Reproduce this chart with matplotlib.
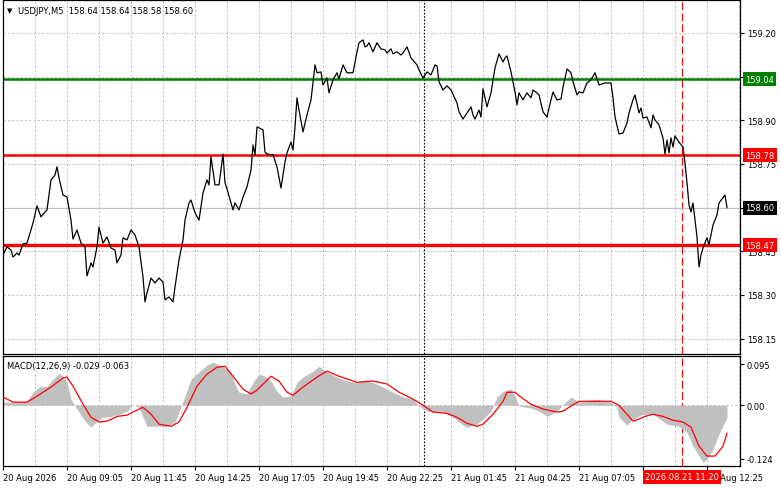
import matplotlib
matplotlib.use('Agg')
import matplotlib.pyplot as plt
import matplotlib.transforms as mtransforms

# USDJPY M5 closes, bar index = number of 5-minute bars from the left edge
bar_idx = [0, 2, 4, 5, 7, 8, 10, 12, 15, 17, 19, 21, 22, 24, 26, 27, 28, 30, 32, 34,
           35, 37, 39, 41, 42, 44, 45, 47, 48, 50, 52, 54, 56, 57, 59, 60, 62, 64, 66, 68,
           70, 71, 72, 74, 76, 78, 80, 81, 83, 85, 86, 88, 90, 91, 93, 94, 96, 98, 100, 102,
           103, 104, 106, 108, 110, 111, 112, 115, 116, 118, 120, 122, 124, 125, 126, 127, 130, 131, 132, 135,
           137, 139, 141, 142, 144, 145, 146, 147, 148, 150, 152, 154, 156, 157, 159, 160, 162, 163, 165, 167,
           168, 170, 172, 175, 177, 178, 180, 181, 182, 183, 185, 187, 189, 191, 192, 194, 195, 197, 199, 200,
           202, 204, 207, 208, 210, 212, 214, 216, 217, 218, 220, 222, 224, 227, 228, 230, 232, 234, 235, 236,
           238, 239, 240, 242, 244, 246, 248, 250, 251, 252, 254, 256, 257, 258, 260, 262, 264, 265, 267, 268,
           270, 272, 274, 275, 277, 279, 280, 282, 284, 285, 287, 288, 290, 292, 294, 296, 298, 301, 304, 305,
           306, 308, 310, 312, 313, 315, 316, 318, 319, 320, 322, 324, 325, 326, 328, 330, 331, 332, 333, 334,
           335, 336, 338, 340, 341, 342, 343, 344, 345, 346, 347, 348, 349, 350, 352, 353, 355, 357, 358, 361,
           362]
close = [158.437, 158.465, 158.454, 158.430, 158.444, 158.437, 158.475, 158.478, 158.547, 158.606,
         158.568, 158.585, 158.592, 158.695, 158.712, 158.740, 158.702, 158.643, 158.636, 158.557,
         158.492, 158.523, 158.478, 158.465, 158.365, 158.410, 158.396, 158.465, 158.533, 158.478,
         158.499, 158.461, 158.454, 158.410, 158.437, 158.496, 158.489, 158.523, 158.506, 158.465,
         158.362, 158.276, 158.307, 158.358, 158.341, 158.358, 158.344, 158.283, 158.293, 158.276,
         158.327, 158.420, 158.489, 158.557, 158.616, 158.626, 158.582, 158.557, 158.650, 158.695,
         158.678, 158.774, 158.678, 158.678, 158.784, 158.685, 158.664, 158.592, 158.616, 158.592,
         158.636, 158.671, 158.729, 158.815, 158.781, 158.877, 158.867, 158.791, 158.784, 158.781,
         158.740, 158.667, 158.757, 158.788, 158.825, 158.798, 158.877, 158.977, 158.935, 158.860,
         158.918, 158.970, 159.090, 159.063, 159.066, 159.021, 159.045, 158.994, 159.039, 159.063,
         159.042, 159.090, 159.063, 159.063, 159.135, 159.166, 159.176, 159.152, 159.155, 159.166,
         159.135, 159.166, 159.145, 159.142, 159.131, 159.145, 159.128, 159.135, 159.124, 159.131,
         159.152, 159.114, 159.090, 159.073, 159.045, 159.066, 159.056, 159.090, 159.087, 159.032,
         159.004, 159.018, 159.004, 158.959, 158.929, 158.904, 158.925, 158.946, 158.918, 158.904,
         158.935, 158.911, 159.008, 158.946, 158.994, 159.080, 159.128, 159.100, 159.114, 159.121,
         159.066, 158.997, 158.953, 158.994, 158.970, 158.994, 158.977, 159.004, 158.994, 158.987,
         158.929, 158.911, 158.970, 158.997, 158.970, 158.973, 159.014, 159.076, 159.063, 159.032,
         158.987, 158.997, 158.994, 159.028, 159.039, 159.063, 159.021, 159.028, 159.028, 158.977,
         158.911, 158.853, 158.856, 158.891, 158.925, 158.970, 158.987, 158.925, 158.942, 158.908,
         158.911, 158.874, 158.918, 158.901, 158.884, 158.839, 158.784, 158.832, 158.788, 158.839,
         158.808, 158.846, 158.825, 158.808, 158.753, 158.685, 158.609, 158.585, 158.616, 158.557,
         158.499, 158.396, 158.437, 158.461, 158.496, 158.472, 158.540, 158.575, 158.616, 158.643,
         158.600]

# MACD(12,26,9): main line (histogram) and signal line
hist_bars = [0, 4, 12, 15, 18, 22, 25, 28, 30, 32, 34, 37, 41, 44, 47, 50, 54, 58, 62, 65,
             68, 70, 72, 77, 82, 86, 88, 91, 94, 98, 102, 105, 110, 114, 116, 118, 122, 125, 128, 131,
             134, 137, 140, 144, 147, 150, 155, 158, 162, 167, 172, 177, 180, 185, 190, 195, 200, 205, 208, 212,
             215, 220, 225, 230, 232, 237, 240, 244, 247, 250, 254, 256, 258, 264, 268, 272, 277, 280, 284, 288,
             297, 304, 307, 308, 312, 315, 320, 325, 332, 338, 342, 345, 350, 352, 355, 358, 362]
hist = [0.007, 0.007, 0.009, 0.030, 0.042, 0.044, 0.060, 0.074, 0.067, 0.053,
        0.014, -0.009, -0.037, -0.051, -0.037, -0.028, -0.026, -0.021, -0.014, 0.002,
        -0.005, -0.028, -0.049, -0.049, -0.049, -0.039, -0.016, 0.021, 0.060, 0.077,
        0.093, 0.100, 0.088, 0.077, 0.049, 0.030, 0.026, 0.053, 0.072, 0.067,
        0.056, 0.032, 0.019, 0.021, 0.053, 0.065, 0.079, 0.090, 0.077, 0.065,
        0.056, 0.053, 0.058, 0.053, 0.042, 0.030, 0.019, 0.014, -0.002, -0.014,
        -0.016, -0.016, -0.028, -0.046, -0.051, -0.044, -0.032, -0.014, 0.019, 0.032,
        0.037, 0.021, -0.002, -0.007, -0.014, -0.026, -0.014, 0.002, 0.019, 0.007,
        0.014, 0.007, -0.005, -0.028, -0.046, -0.032, -0.021, -0.021, -0.044, -0.049,
        -0.063, -0.095, -0.132, -0.125, -0.102, -0.067, -0.029]
sig_bars = [0, 5, 12, 17, 24, 30, 32, 35, 40, 44, 48, 52, 57, 62, 65, 70, 74, 78, 84, 88,
            92, 97, 102, 107, 111, 115, 120, 124, 127, 134, 138, 142, 145, 150, 157, 162, 168, 177, 185, 192,
            198, 205, 210, 215, 222, 227, 232, 237, 240, 245, 250, 252, 256, 258, 264, 270, 277, 280, 284, 288,
            295, 304, 308, 311, 315, 318, 321, 325, 330, 335, 340, 344, 348, 352, 356, 360, 362]
signal = [0.019, 0.007, 0.007, 0.021, 0.042, 0.063, 0.065, 0.044, 0.002, -0.028,
          -0.039, -0.037, -0.026, -0.023, -0.016, -0.005, -0.021, -0.044, -0.049, -0.039,
          -0.005, 0.044, 0.072, 0.088, 0.090, 0.067, 0.037, 0.026, 0.035, 0.067,
          0.056, 0.030, 0.023, 0.042, 0.065, 0.079, 0.067, 0.053, 0.056, 0.049,
          0.030, 0.014, 0.000, -0.016, -0.019, -0.028, -0.042, -0.049, -0.044, -0.021,
          0.009, 0.030, 0.030, 0.022, 0.002, -0.009, -0.016, -0.014, -0.002, 0.009,
          0.009, 0.009, 0.000, -0.016, -0.037, -0.032, -0.026, -0.021, -0.026, -0.035,
          -0.039, -0.051, -0.095, -0.118, -0.118, -0.095, -0.065]

# '21 Aug 09:45' sits under the cursor box in the terminal, so it is left blank
time_labels = ['20 Aug 2026', '20 Aug 09:05', '20 Aug 11:45', '20 Aug 14:25', '20 Aug 17:05',
               '20 Aug 19:45', '20 Aug 22:25', '21 Aug 01:45', '21 Aug 04:25', '21 Aug 07:05',
               '', '21 Aug 12:25']
price_ticks = [158.15, 158.30, 158.45, 158.60, 158.75, 158.90, 159.05, 159.20]
macd_ticks = [0.095, 0.0, -0.124]
macd_tick_labels = ['0.095', '0.00', '-0.124']

resistance = 159.04
levels_red = [158.78, 158.47]
last_price = 158.60
session_bar = 210.5
cursor_bar = 339.5
cursor_label = '2026.08.21 11:20'
header = 'USDJPY,M5  158.64 158.64 158.58 158.60'
macd_header = 'MACD(12,26,9) -0.029 -0.063'

GRID = '#c0c0c0'
FS = 6

W, H = 781, 489
fig = plt.figure(figsize=(W / 100, H / 100), dpi=100)


def box(l, t, r, b):
    return [l / W, 1 - b / H, (r - l) / W, (b - t) / H]


ax = fig.add_axes(box(3, 1, 740, 355))
ax2 = fig.add_axes(box(3, 357, 740, 467))

for a in (ax, ax2):
    a.set_xlim(0, 368.5)
    for b in range(16, 369, 16):
        a.axvline(b, color=GRID, lw=0.7, ls=(0, (2.2, 2.2)), zorder=0)
    a.axvline(session_bar, color='black', lw=0.8, ls=(0, (1.5, 1.5)), zorder=1)
    a.axvline(cursor_bar, color='red', lw=0.8, ls=(0, (7, 3)), zorder=1)
    for s in a.spines.values():
        s.set_color('black')
        s.set_linewidth(0.9)
    a.yaxis.tick_right()
    a.tick_params(axis='y', length=3, width=0.8, pad=2, labelsize=FS, colors='black')

# main price panel
ax.set_ylim(158.097, 159.313)
ax.set_yticks(price_ticks)
# labels hidden behind the level boxes are left out
covered = [resistance, last_price]
ax.set_yticklabels(['' if any(abs(p - c) < 0.015 for c in covered) else f'{p:.2f}'
                    for p in price_ticks])
ax.set_xticks([])
for p in price_ticks:
    ax.axhline(p, color=GRID, lw=0.7, ls=(0, (2.2, 2.2)), zorder=0)
ax.axhline(last_price, color=GRID, lw=0.9, zorder=1)
ax.axhline(resistance, color='#008000', lw=1.8, zorder=2)
ax.axhline(levels_red[0], color='red', lw=1.8, zorder=2)
ax.axhline(levels_red[1], color='red', lw=2.4, zorder=2)
ax.plot(bar_idx, close, color='black', lw=0.9, zorder=3)

ytr = mtransforms.blended_transform_factory(ax.transAxes, ax.transData)
for val, col in [(resistance, '#008000'), (levels_red[0], 'red'),
                 (levels_red[1], 'red'), (last_price, 'black')]:
    ax.text(1 + 5 / 737, val, f'{val:.2f}', transform=ytr, ha='left', va='center',
            fontsize=FS, color='white', clip_on=False, zorder=10,
            bbox=dict(boxstyle='square,pad=0.3', fc=col, ec='none'))

ax.text(7 / 737, 1 - 10 / 354, '\u25bc', transform=ax.transAxes, fontsize=5,
        ha='center', va='center', color='black')
ax.text(15 / 737, 1 - 10 / 354, header, transform=ax.transAxes, fontsize=FS,
        ha='left', va='center', color='black')

# MACD panel
ax2.set_ylim(-0.141, 0.114)
ax2.axhline(0, color=GRID, lw=0.7, ls=(0, (2.2, 2.2)), zorder=0)
ax2.fill_between(hist_bars, 0, hist, color='#c0c0c0', lw=0, zorder=2)
ax2.plot(sig_bars, signal, color='red', lw=0.9, zorder=3)
ax2.set_yticks(macd_ticks)
ax2.set_yticklabels(macd_tick_labels)
ax2.set_xticks([32 * i for i in range(len(time_labels))])
ax2.set_xticklabels(time_labels, ha='left', fontsize=FS)
ax2.tick_params(axis='x', length=3, width=0.8, pad=2, colors='black')
ax2.text(4 / 737, 1 - 9 / 110, macd_header, transform=ax2.transAxes, fontsize=FS,
         ha='left', va='center', color='black')

xtr = mtransforms.blended_transform_factory(ax2.transData, ax2.transAxes)
ax2.text(cursor_bar, -11 / 110, cursor_label, transform=xtr, ha='center', va='center',
         fontsize=FS, color='white', clip_on=False, zorder=10,
         bbox=dict(boxstyle='square,pad=0.3', fc='red', ec='none'))

fig.savefig('out.png', dpi=100)
